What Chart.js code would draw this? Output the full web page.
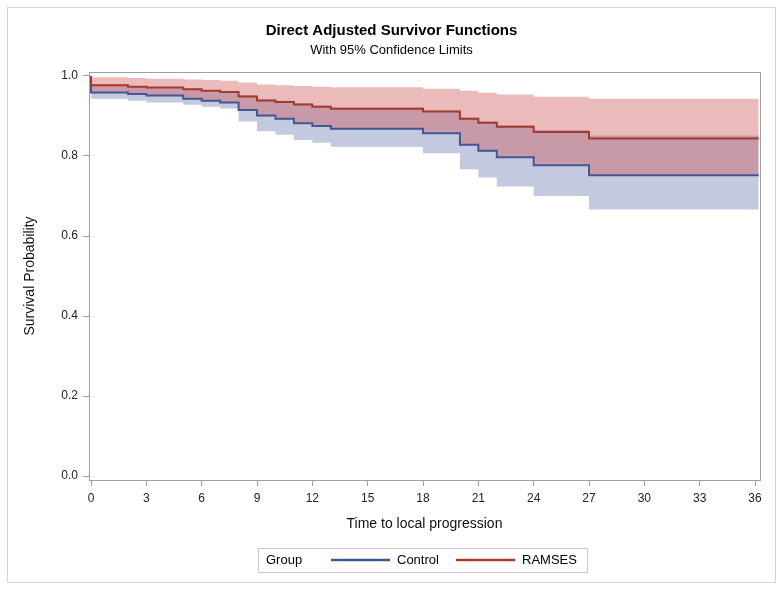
<!DOCTYPE html>
<html>
<head>
<meta charset="utf-8">
<script src="https://cdn.jsdelivr.net/npm/chart.js@4.4.1/dist/chart.umd.min.js"></script>
<style>
  html, body { margin: 0; padding: 0; background: #fff; }
  #wrap { width: 783px; height: 591px; position: relative; }
</style>
</head>
<body>
<div id="wrap"><canvas id="chart" width="783" height="591"></canvas></div>
<script>
// event times (months), shared by both adjusted curves; last entry = end of follow-up
const times = [0, 2, 3, 5, 6, 7, 8, 9, 10, 11, 12, 13, 18, 20, 21, 22, 24, 27, 36.2];

const controlSurv = [0.959, 0.955, 0.951, 0.943, 0.938, 0.934, 0.915, 0.901, 0.893, 0.882, 0.875, 0.868, 0.857, 0.828, 0.813, 0.797, 0.777, 0.752, 0.752];
const controlLow  = [0.943, 0.938, 0.934, 0.928, 0.923, 0.919, 0.886, 0.862, 0.853, 0.840, 0.833, 0.823, 0.807, 0.767, 0.746, 0.724, 0.700, 0.666, 0.666];
const controlHigh = [0.979, 0.975, 0.973, 0.969, 0.965, 0.962, 0.952, 0.942, 0.938, 0.932, 0.927, 0.922, 0.914, 0.896, 0.887, 0.877, 0.865, 0.851, 0.851];

const ramsesSurv = [0.977, 0.973, 0.971, 0.967, 0.963, 0.960, 0.949, 0.939, 0.935, 0.929, 0.923, 0.918, 0.911, 0.893, 0.883, 0.873, 0.860, 0.844, 0.844];
const ramsesLow  = [0.957, 0.953, 0.950, 0.942, 0.937, 0.933, 0.914, 0.899, 0.891, 0.880, 0.873, 0.866, 0.855, 0.826, 0.811, 0.795, 0.775, 0.750, 0.750];
const ramsesHigh = [0.997, 0.995, 0.993, 0.991, 0.990, 0.988, 0.984, 0.979, 0.977, 0.975, 0.973, 0.972, 0.968, 0.963, 0.958, 0.954, 0.948, 0.943, 0.943];

const xTicks = [0, 3, 6, 9, 12, 15, 18, 21, 24, 27, 30, 33, 36];
const yTicks = [0, 0.2, 0.4, 0.6, 0.8, 1.0];

const groups = ["Control", "RAMSES"];

const FONT = "'Liberation Sans', Arial, sans-serif";
const BLUE = "#445694";
const RED = "#A23A2E";

// step curve starting at S(0)=1
function curve(vals) {
  return [{ x: 0, y: 1 }].concat(times.map((t, i) => ({ x: t, y: vals[i] })));
}
function band(vals) {
  return times.map((t, i) => ({ x: t, y: vals[i] }));
}

const frame = {
  id: "frame",
  afterDraw(chart) {
    const ctx = chart.ctx;
    const a = chart.chartArea;
    ctx.save();
    // outer graph border
    ctx.strokeStyle = "#d4d4d4";
    ctx.lineWidth = 1;
    ctx.strokeRect(7.5, 7.5, 768, 575);
    // plot frame
    ctx.strokeStyle = "#a0a0a0";
    ctx.strokeRect(Math.round(a.left) + 0.5, Math.round(a.top) + 0.5,
      Math.round(a.right - a.left), Math.round(a.bottom - a.top));

    // titles
    ctx.fillStyle = "#000";
    ctx.textAlign = "center";
    ctx.textBaseline = "middle";
    ctx.font = "bold 15px " + FONT;
    ctx.fillText("Direct Adjusted Survivor Functions", 391.5, 31);
    ctx.font = "13px " + FONT;
    ctx.fillText("With 95% Confidence Limits", 391.5, 50);

    // legend
    ctx.strokeStyle = "#c8c8c8";
    ctx.strokeRect(258.5, 548.5, 329, 24);
    ctx.textAlign = "left";
    ctx.font = "13px " + FONT;
    ctx.fillStyle = "#000";
    ctx.fillText("Group", 266, 560);
    const items = [
      { label: groups[0], color: BLUE, x: 331 },
      { label: groups[1], color: RED, x: 456 }
    ];
    items.forEach(it => {
      ctx.strokeStyle = it.color;
      ctx.lineWidth = 2.5;
      ctx.beginPath();
      ctx.moveTo(it.x, 560);
      ctx.lineTo(it.x + 59, 560);
      ctx.stroke();
      ctx.fillText(it.label, it.x + 66, 560);
    });
    ctx.restore();
  }
};

new Chart(document.getElementById("chart"), {
  type: "line",
  data: {
    datasets: [
      { label: groups[1], data: curve(ramsesSurv), borderColor: RED, borderWidth: 2, stepped: "before", pointRadius: 0, fill: false, order: 0 },
      { label: groups[0], data: curve(controlSurv), borderColor: BLUE, borderWidth: 2, stepped: "before", pointRadius: 0, fill: false, order: 0.5 },
      { label: "RAMSES low", data: band(ramsesLow), borderWidth: 0, stepped: "before", pointRadius: 0, fill: false, order: 1 },
      { label: "RAMSES high", data: band(ramsesHigh), borderWidth: 0, stepped: "before", pointRadius: 0,
        fill: { target: 2 }, backgroundColor: "rgba(208,91,91,0.42)", order: 1 },
      { label: "Control low", data: band(controlLow), borderWidth: 0, stepped: "before", pointRadius: 0, fill: false, order: 2 },
      { label: "Control high", data: band(controlHigh), borderWidth: 0, stepped: "before", pointRadius: 0,
        fill: { target: 4 }, backgroundColor: "rgba(111,126,179,0.42)", order: 2 }
    ]
  },
  options: {
    responsive: false,
    animation: false,
    layout: { padding: { top: 72, right: 23, bottom: 58, left: 0 } },
    plugins: {
      legend: { display: false },
      tooltip: { enabled: false },
      title: { display: false }
    },
    scales: {
      x: {
        type: "linear",
        min: -0.11,
        max: 36.27,
        afterBuildTicks: s => { s.ticks = xTicks.map(v => ({ value: v })); },
        afterFit: s => { s.height = 53; },
        ticks: { color: "#222", font: { family: FONT, size: 12 }, padding: 5, maxRotation: 0, autoSkip: false },
        grid: { drawOnChartArea: false, drawTicks: true, tickLength: 6, color: "#a0a0a0" },
        border: { display: false },
        title: { display: true, text: "Time to local progression", color: "#111",
          font: { family: FONT, size: 14 }, padding: { top: 0, bottom: 0 } }
      },
      y: {
        min: -0.01,
        max: 1.01,
        afterBuildTicks: s => { s.ticks = yTicks.map(v => ({ value: v })); },
        afterFit: s => { s.width = 89; },
        ticks: { color: "#222", font: { family: FONT, size: 12 }, padding: 5,
          callback: v => v.toFixed(1) },
        grid: { drawOnChartArea: false, drawTicks: true, tickLength: 6, color: "#a0a0a0" },
        border: { display: false },
        title: { display: true, text: "Survival Probability", color: "#111",
          font: { family: FONT, size: 14 }, padding: { top: 21.6, bottom: 0 } }
      }
    }
  },
  plugins: [frame]
});
</script>
</body>
</html>
